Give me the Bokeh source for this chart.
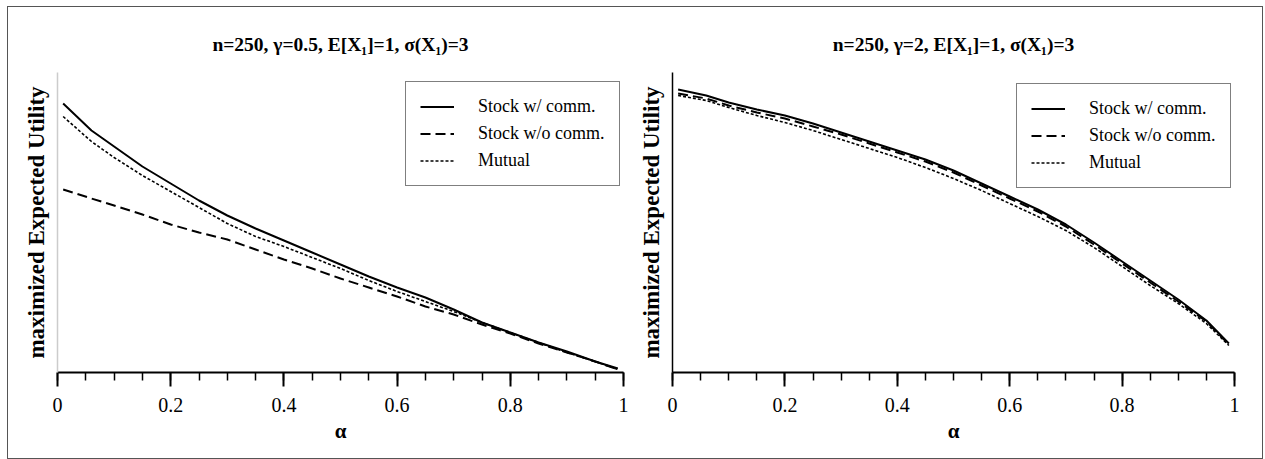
from bokeh.plotting import figure
from bokeh.layouts import row
from bokeh.models import FixedTicker, Legend, LegendItem, Range1d, Title
from bokeh.embed import file_html
from bokeh.resources import INLINE

# ---- data (y in arbitrary utility units) ----
alpha = [0.01, 0.06, 0.1, 0.15, 0.2, 0.25, 0.3, 0.35, 0.4, 0.45, 0.5,
         0.55, 0.6, 0.65, 0.7, 0.75, 0.8, 0.85, 0.9, 0.95, 0.99]

left_with = [2.69, 2.42, 2.26, 2.06, 1.89, 1.72, 1.57, 1.44, 1.32, 1.20, 1.08,
             0.96, 0.85, 0.75, 0.63, 0.50, 0.40, 0.30, 0.21, 0.11, 0.04]
left_without = [1.83, 1.74, 1.67, 1.58, 1.48, 1.40, 1.33, 1.23, 1.13, 1.04, 0.94,
                0.85, 0.76, 0.66, 0.58, 0.48, 0.39, 0.29, 0.20, 0.11, 0.03]
left_mutual = [2.56, 2.31, 2.15, 1.97, 1.81, 1.65, 1.49, 1.36, 1.26, 1.15, 1.04,
               0.92, 0.81, 0.71, 0.61, 0.50, 0.40, 0.30, 0.20, 0.11, 0.03]

right_with = [2.83, 2.77, 2.70, 2.63, 2.57, 2.49, 2.40, 2.31, 2.22, 2.13, 2.02,
              1.89, 1.76, 1.63, 1.48, 1.30, 1.11, 0.92, 0.73, 0.52, 0.29]
right_without = [2.79, 2.74, 2.67, 2.60, 2.54, 2.46, 2.38, 2.29, 2.20, 2.11, 2.00,
                 1.87, 1.74, 1.61, 1.46, 1.28, 1.09, 0.90, 0.71, 0.51, 0.28]
right_mutual = [2.77, 2.72, 2.65, 2.57, 2.50, 2.42, 2.33, 2.24, 2.15, 2.05, 1.94,
                1.82, 1.69, 1.56, 1.42, 1.25, 1.06, 0.87, 0.69, 0.49, 0.27]

titles = ["n=250, \u03b3=0.5, E[X\u2081]=1, \u03c3(X\u2081)=3",
          "n=250, \u03b3=2, E[X\u2081]=1, \u03c3(X\u2081)=3"]
series_names = ["Stock w/ comm.", "Stock w/o comm.", "Mutual"]
x_ticks = [0, 0.2, 0.4, 0.6, 0.8, 1]
x_tick_labels = ["0", "0.2", "0.4", "0.6", "0.8", "1"]
x_minor = [0.05 * i for i in range(21)]
y_label = "maximized Expected Utility"
x_label = "\u03b1"

FONT = "Liberation Serif"


def make_plot(title, ys, width, border_left, border_right, yaxis_color, legend_xy):
    p = figure(width=width, height=451, output_backend="svg", toolbar_location=None,
               x_range=Range1d(0, 1), y_range=Range1d(0, 3),
               min_border_left=border_left, min_border_right=border_right,
               min_border_top=65, min_border_bottom=86)
    p.title = Title(text=title, text_font=FONT, text_font_size="19.5px",
                    text_font_style="bold", text_color="black",
                    align="center", standoff=36)
    p.outline_line_color = None
    p.xgrid.visible = False
    p.ygrid.visible = False
    p.background_fill_color = "white"
    p.border_fill_color = "white"

    xa = p.xaxis[0]
    xa.ticker = FixedTicker(ticks=x_ticks, minor_ticks=x_minor)
    xa.major_label_overrides = {t: l for t, l in zip(x_ticks, x_tick_labels)}
    xa.major_label_text_font = FONT
    xa.major_label_text_font_size = "20px"
    xa.major_label_text_color = "black"
    xa.major_label_standoff = 11
    xa.axis_line_width = 2
    xa.axis_line_color = "black"
    xa.major_tick_out = 14
    xa.major_tick_in = 0
    xa.minor_tick_out = 8
    xa.minor_tick_in = 0
    xa.major_tick_line_width = 2
    xa.minor_tick_line_width = 1.5
    xa.major_tick_line_color = "black"
    xa.minor_tick_line_color = "black"
    xa.axis_label = x_label
    xa.axis_label_text_font = FONT
    xa.axis_label_text_font_size = "21px"
    xa.axis_label_text_font_style = "bold"
    xa.axis_label_text_color = "black"
    xa.axis_label_standoff = 4

    ya = p.yaxis[0]
    ya.ticker = FixedTicker(ticks=[])
    ya.axis_line_color = yaxis_color
    ya.axis_line_width = 1.5
    ya.major_tick_line_color = None
    ya.minor_tick_line_color = None
    ya.axis_label = y_label
    ya.axis_label_text_font = FONT
    ya.axis_label_text_font_size = "23px"
    ya.axis_label_text_font_style = "bold"
    ya.axis_label_text_color = "black"
    ya.axis_label_standoff = 9

    r1 = p.line(alpha, ys[0], line_color="black", line_width=2)
    r2 = p.line(alpha, ys[1], line_color="black", line_width=2, line_dash="10 5")
    r3 = p.line(alpha, ys[2], line_color="black", line_width=1.6, line_dash="3 2")

    legend = Legend(items=[LegendItem(label=series_names[0], renderers=[r1]),
                           LegendItem(label=series_names[1], renderers=[r2]),
                           LegendItem(label=series_names[2], renderers=[r3])],
                    location=legend_xy)
    legend.label_text_font = FONT
    legend.label_text_font_size = "18px"
    legend.label_text_color = "black"
    legend.border_line_color = "black"
    legend.border_line_width = 1.5
    legend.background_fill_color = "white"
    legend.background_fill_alpha = 1
    legend.glyph_width = 34
    legend.glyph_height = 21
    legend.label_height = 21
    legend.label_standoff = 24
    legend.spacing = 6
    legend.padding = 14
    legend.margin = 0
    p.add_layout(legend, "center")
    return p


p1 = make_plot(titles[0], [left_with, left_without, left_mutual], 627, 49, 12, "#cccccc", (348, 186))
p2 = make_plot(titles[1], [right_with, right_without, right_mutual], 627, 33, 28, "black", (344, 184))

layout = row(p1, p2, margin=(6, 0, 0, 7),
             styles={"border": "1px solid #555555", "background-color": "white"})

open("out.html", "w").write(file_html(layout, INLINE))
